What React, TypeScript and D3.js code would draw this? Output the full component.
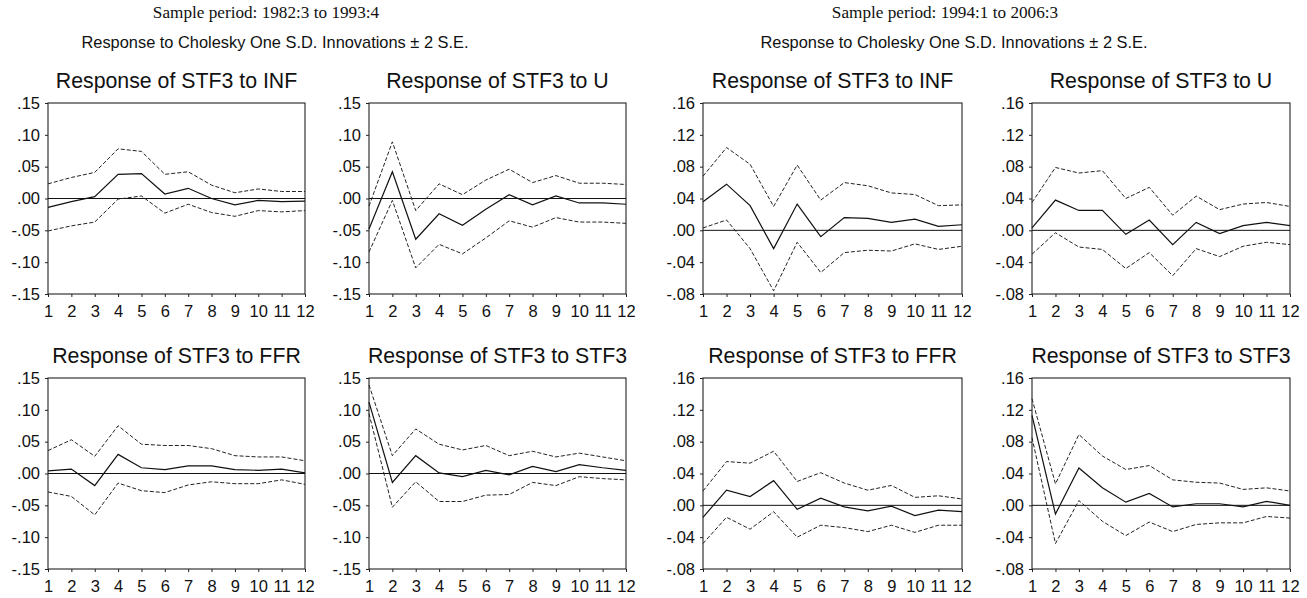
import React, { useEffect, useRef } from "react";
import * as d3 from "d3";

const periods = [1, 2, 3, 4, 5, 6, 7, 8, 9, 10, 11, 12];
const sampleTitles = ["Sample period: 1982:3 to 1993:4", "Sample period: 1994:1 to 2006:3"];
const headerTitle = "Response to Cholesky One S.D. Innovations \u00b1 2 S.E.";
const panelTitles = ["Response of STF3 to INF", "Response of STF3 to U", "Response of STF3 to FFR", "Response of STF3 to STF3"];
const ticksEarly = [0.15, 0.1, 0.05, 0, -0.05, -0.1, -0.15];
const tickLabelsEarly = [".15", ".10", ".05", ".00", "-.05", "-.10", "-.15"];
const ticksLate = [0.16, 0.12, 0.08, 0.04, 0, -0.04, -0.08];
const tickLabelsLate = [".16", ".12", ".08", ".04", ".00", "-.04", "-.08"];

// Early sample (1982:3 - 1993:4)
const e_inf = [-0.014, -0.005, 0.003, 0.038, 0.039, 0.007, 0.016, 0.0, -0.01, -0.003, -0.005, -0.004];
const e_inf_up = [0.023, 0.033, 0.041, 0.078, 0.074, 0.038, 0.042, 0.021, 0.009, 0.015, 0.011, 0.011];
const e_inf_lo = [-0.051, -0.043, -0.037, -0.001, 0.004, -0.023, -0.009, -0.022, -0.028, -0.019, -0.021, -0.019];

const e_u = [-0.048, 0.042, -0.064, -0.024, -0.042, -0.017, 0.006, -0.01, 0.004, -0.007, -0.007, -0.009];
const e_u_up = [-0.012, 0.089, -0.019, 0.023, 0.006, 0.029, 0.046, 0.025, 0.036, 0.024, 0.024, 0.022];
const e_u_lo = [-0.084, -0.003, -0.109, -0.072, -0.087, -0.062, -0.035, -0.045, -0.03, -0.037, -0.037, -0.039];

const e_ffr = [0.004, 0.007, -0.019, 0.03, 0.009, 0.006, 0.012, 0.012, 0.006, 0.005, 0.007, 0.001];
const e_ffr_up = [0.036, 0.053, 0.027, 0.075, 0.046, 0.044, 0.044, 0.039, 0.028, 0.026, 0.026, 0.02];
const e_ffr_lo = [-0.029, -0.036, -0.065, -0.015, -0.027, -0.03, -0.018, -0.013, -0.016, -0.016, -0.01, -0.017];

const e_stf = [0.112, -0.014, 0.028, 0.001, -0.005, 0.005, -0.002, 0.011, 0.003, 0.014, 0.009, 0.005];
const e_stf_up = [0.139, 0.028, 0.07, 0.046, 0.037, 0.044, 0.028, 0.035, 0.026, 0.032, 0.026, 0.02];
const e_stf_lo = [0.094, -0.053, -0.013, -0.044, -0.044, -0.034, -0.033, -0.014, -0.019, -0.005, -0.008, -0.01];

// Late sample (1994:1 - 2006:3)
const l_inf = [0.036, 0.058, 0.031, -0.023, 0.033, -0.008, 0.016, 0.015, 0.01, 0.014, 0.005, 0.007];
const l_inf_up = [0.068, 0.104, 0.083, 0.03, 0.082, 0.038, 0.06, 0.056, 0.047, 0.045, 0.031, 0.032];
const l_inf_lo = [0.003, 0.013, -0.023, -0.076, -0.015, -0.053, -0.028, -0.025, -0.026, -0.017, -0.024, -0.02];

const l_u = [0.003, 0.038, 0.025, 0.025, -0.005, 0.013, -0.018, 0.01, -0.004, 0.006, 0.01, 0.006];
const l_u_up = [0.035, 0.079, 0.072, 0.075, 0.04, 0.054, 0.019, 0.043, 0.026, 0.033, 0.035, 0.03];
const l_u_lo = [-0.03, -0.003, -0.021, -0.024, -0.048, -0.028, -0.057, -0.023, -0.033, -0.02, -0.015, -0.018];

const l_ffr = [-0.015, 0.019, 0.011, 0.031, -0.005, 0.009, -0.002, -0.007, -0.001, -0.013, -0.006, -0.008];
const l_ffr_up = [0.018, 0.055, 0.053, 0.068, 0.03, 0.041, 0.028, 0.019, 0.025, 0.01, 0.012, 0.008];
const l_ffr_lo = [-0.048, -0.015, -0.03, -0.008, -0.04, -0.025, -0.028, -0.033, -0.025, -0.034, -0.025, -0.025];

const l_stf = [0.113, -0.011, 0.047, 0.022, 0.004, 0.015, -0.002, 0.002, 0.002, -0.002, 0.005, 0.0];
const l_stf_up = [0.134, 0.027, 0.089, 0.062, 0.045, 0.05, 0.032, 0.029, 0.028, 0.02, 0.022, 0.018];
const l_stf_lo = [0.085, -0.048, 0.006, -0.02, -0.038, -0.021, -0.033, -0.024, -0.022, -0.022, -0.014, -0.016];

type Panel = {
  title: string;
  x0: number; x1: number; y0: number; y1: number;
  dom: [number, number];
  ticks: number[]; labels: string[];
  resp: number[]; up: number[]; lo: number[];
};

const colsX: [number, number][] = [[48, 305], [369, 626], [703, 962], [1032, 1290]];
const rowsY: [number, number][] = [[103, 294], [378, 569]];

const panels: Panel[] = [
  { title: panelTitles[0], x0: colsX[0][0], x1: colsX[0][1], y0: rowsY[0][0], y1: rowsY[0][1], dom: [-0.15, 0.15], ticks: ticksEarly, labels: tickLabelsEarly, resp: e_inf, up: e_inf_up, lo: e_inf_lo },
  { title: panelTitles[1], x0: colsX[1][0], x1: colsX[1][1], y0: rowsY[0][0], y1: rowsY[0][1], dom: [-0.15, 0.15], ticks: ticksEarly, labels: tickLabelsEarly, resp: e_u, up: e_u_up, lo: e_u_lo },
  { title: panelTitles[2], x0: colsX[0][0], x1: colsX[0][1], y0: rowsY[1][0], y1: rowsY[1][1], dom: [-0.15, 0.15], ticks: ticksEarly, labels: tickLabelsEarly, resp: e_ffr, up: e_ffr_up, lo: e_ffr_lo },
  { title: panelTitles[3], x0: colsX[1][0], x1: colsX[1][1], y0: rowsY[1][0], y1: rowsY[1][1], dom: [-0.15, 0.15], ticks: ticksEarly, labels: tickLabelsEarly, resp: e_stf, up: e_stf_up, lo: e_stf_lo },
  { title: panelTitles[0], x0: colsX[2][0], x1: colsX[2][1], y0: rowsY[0][0], y1: rowsY[0][1], dom: [-0.08, 0.16], ticks: ticksLate, labels: tickLabelsLate, resp: l_inf, up: l_inf_up, lo: l_inf_lo },
  { title: panelTitles[1], x0: colsX[3][0], x1: colsX[3][1], y0: rowsY[0][0], y1: rowsY[0][1], dom: [-0.08, 0.16], ticks: ticksLate, labels: tickLabelsLate, resp: l_u, up: l_u_up, lo: l_u_lo },
  { title: panelTitles[2], x0: colsX[2][0], x1: colsX[2][1], y0: rowsY[1][0], y1: rowsY[1][1], dom: [-0.08, 0.16], ticks: ticksLate, labels: tickLabelsLate, resp: l_ffr, up: l_ffr_up, lo: l_ffr_lo },
  { title: panelTitles[3], x0: colsX[3][0], x1: colsX[3][1], y0: rowsY[1][0], y1: rowsY[1][1], dom: [-0.08, 0.16], ticks: ticksLate, labels: tickLabelsLate, resp: l_stf, up: l_stf_up, lo: l_stf_lo },
];

const SANS = "'Liberation Sans', Arial, Helvetica, sans-serif";
const SERIF = "'Liberation Serif', 'Times New Roman', serif";

export default function App() {
  const ref = useRef<SVGSVGElement>(null);
  useEffect(() => {
    const svg = d3.select(ref.current);
    svg.selectAll("*").remove();
    svg.append("rect").attr("width", 1307).attr("height", 598).attr("fill", "#fff");

    const headers = [
      { sample: sampleTitles[0], cx: 266 },
      { sample: sampleTitles[1], cx: 945 },
    ];
    headers.forEach((h) => {
      svg.append("text").attr("x", h.cx).attr("y", 18).attr("text-anchor", "middle")
        .attr("font-family", SERIF).attr("font-size", 17.2).attr("fill", "#111").text(h.sample);
      svg.append("text").attr("x", h.cx + 9).attr("y", 48).attr("text-anchor", "middle")
        .attr("font-family", SANS).attr("font-size", 16.4).attr("fill", "#111").text(headerTitle);
    });

    panels.forEach((p) => {
      const g = svg.append("g");
      const x = d3.scaleLinear().domain([1, 12]).range([p.x0, p.x1]);
      const y = d3.scaleLinear().domain(p.dom).range([p.y1, p.y0]);

      g.append("text").attr("x", (p.x0 + p.x1) / 2).attr("y", p.y0 - 15).attr("text-anchor", "middle")
        .attr("font-family", SANS).attr("font-size", 21.3).attr("fill", "#111").text(p.title);

      const yAxis = d3.axisLeft(y).tickValues(p.ticks).tickSize(3).tickPadding(5)
        .tickFormat((_d, i) => p.labels[i]);
      const ya = g.append("g").attr("transform", `translate(${p.x0},0)`).call(yAxis);
      ya.select(".domain").remove();
      ya.selectAll("text").attr("font-family", SANS).attr("font-size", 16.5).attr("fill", "#111");
      ya.selectAll("line").attr("stroke", "#222");

      const xAxis = d3.axisBottom(x).tickValues(periods).tickSize(3).tickPadding(8)
        .tickFormat((d) => String(d));
      const xa = g.append("g").attr("transform", `translate(0,${p.y1})`).call(xAxis);
      xa.select(".domain").remove();
      xa.selectAll("text").attr("font-family", SANS).attr("font-size", 16.5).attr("fill", "#111");
      xa.selectAll("line").attr("stroke", "#222");

      g.append("rect").attr("x", p.x0).attr("y", p.y0).attr("width", p.x1 - p.x0).attr("height", p.y1 - p.y0)
        .attr("fill", "none").attr("stroke", "#222").attr("stroke-width", 1.1);

      g.append("line").attr("x1", p.x0).attr("x2", p.x1).attr("y1", y(0)).attr("y2", y(0))
        .attr("stroke", "#111").attr("stroke-width", 1);

      const line = d3.line<number>().x((_d, i) => x(periods[i])).y((d) => y(d));
      [p.up, p.lo].forEach((s) => {
        g.append("path").attr("d", line(s) as string).attr("fill", "none").attr("stroke", "#222")
          .attr("stroke-width", 1).attr("stroke-dasharray", "4,2");
      });
      g.append("path").attr("d", line(p.resp) as string).attr("fill", "none").attr("stroke", "#111")
        .attr("stroke-width", 1.2);
    });
  }, []);
  return (
    <svg ref={ref} width={1307} height={598}
      style={{ position: "absolute", left: 0, top: 0, display: "block" }} />
  );
}
